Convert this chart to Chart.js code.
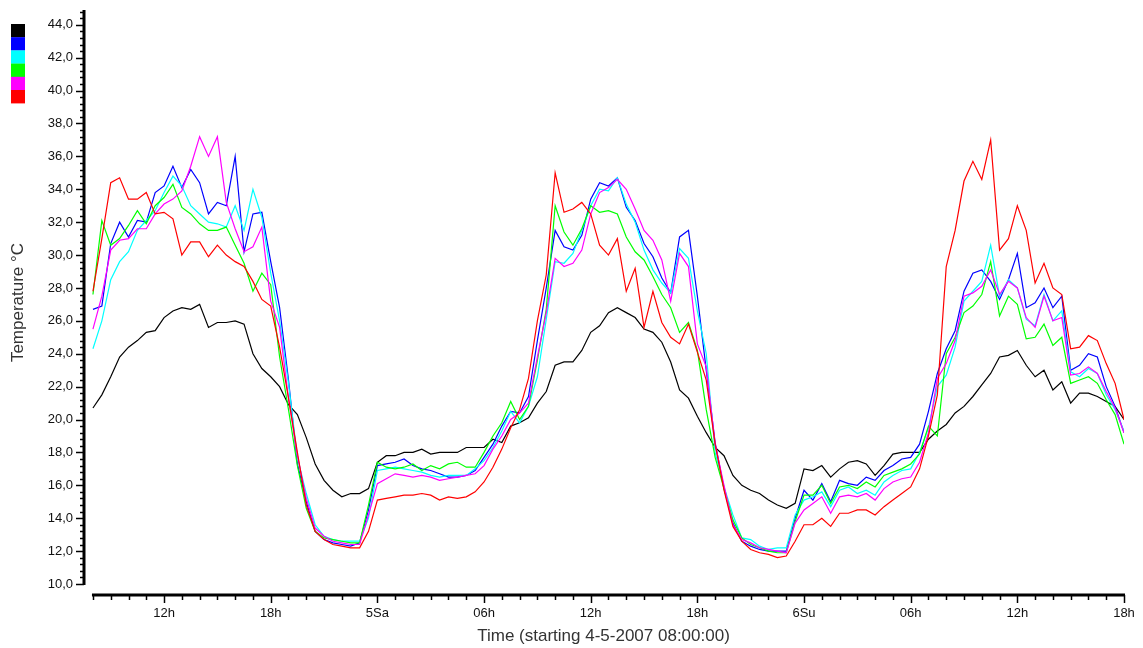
<!DOCTYPE html>
<html lang="en">
<head>
    <meta charset="UTF-8">
    <title>Temperature</title>
    <script src="https://cdn.jsdelivr.net/npm/chart.js"></script>
    <style>
        body {
            margin: 0;
            background-color: #ffffff;
        }
        #wrap {
            width: 1143px;
            height: 648px;
        }
    </style>
</head>
<body>
    <div id="wrap">
        <canvas id="tempChart" width="1143" height="648"></canvas>
    </div>
    <script>
        // one reading every 30 min, starting 4-5-2007 08:00
        const black = [
            20.7, 21.5, 22.6, 23.8, 24.4, 24.8, 25.3, 25.4, 26.2, 26.6,
            26.8, 26.7, 27.0, 25.6, 25.9, 25.9, 26.0, 25.8, 24.0, 23.1,
            22.6, 22.0, 20.9, 20.3, 18.9, 17.3, 16.3, 15.7, 15.3, 15.5,
            15.5, 15.8, 17.4, 17.8, 17.8, 18.0, 18.0, 18.2, 17.9, 18.0,
            18.0, 18.0, 18.3, 18.3, 18.3, 18.8, 18.6, 19.6, 19.8, 20.1,
            21.0, 21.7, 23.3, 23.5, 23.5, 24.2, 25.3, 25.7, 26.5, 26.8,
            26.5, 26.2, 25.5, 25.3, 24.7, 23.5, 21.8, 21.3, 20.2, 19.2,
            18.3, 17.8, 16.6, 16.0, 15.7, 15.5, 15.1, 14.8, 14.6, 14.9,
            17.0, 16.9, 17.2, 16.5, 17.0, 17.4, 17.5, 17.3, 16.6, 17.2,
            17.9, 18.0, 18.0, 18.0, 18.8, 19.3, 19.7, 20.4, 20.8, 21.4,
            22.1, 22.8, 23.8, 23.9, 24.2, 23.3, 22.6, 23.0, 21.8, 22.3,
            21.0, 21.6, 21.6, 21.4, 21.1, 20.8, 20.0
        ];
        const blue = [
            26.7, 26.9, 30.7, 32.0, 31.1, 32.1, 32.0, 33.8, 34.2, 35.4,
            34.1, 35.2, 34.4, 32.5, 33.2, 33.0, 36.0, 30.2, 32.5, 32.6,
            29.6, 26.8, 22.4, 17.3, 15.0, 13.2, 12.7, 12.5, 12.4, 12.3,
            12.5, 14.5, 17.2, 17.3, 17.4, 17.6, 17.2, 17.0, 16.9, 16.7,
            16.5, 16.5, 16.6, 16.9, 17.7, 18.5, 19.6, 20.5, 20.4, 21.4,
            24.8, 28.0, 31.5, 30.5, 30.3, 31.2, 33.4, 34.4, 34.2, 34.7,
            32.9, 32.1, 30.7, 29.9, 28.6, 27.7, 31.1, 31.5, 27.5, 23.0,
            18.6, 15.8, 13.7, 12.6, 12.3, 12.1, 12.0, 12.0, 12.0, 14.0,
            15.7, 15.1, 16.1, 15.0, 16.3, 16.1, 16.0, 16.5, 16.3, 16.9,
            17.2, 17.6, 17.7, 18.5, 20.5, 22.8, 24.3, 25.4, 27.8, 28.9,
            29.1, 28.4, 27.3, 28.5, 30.1, 26.8, 27.1, 28.0, 26.8, 27.5,
            23.0, 23.3, 24.0, 23.8, 22.0, 20.8, 19.2
        ];
        const cyan = [
            24.3, 26.0, 28.5, 29.6, 30.2, 31.5, 32.1, 32.7, 33.8, 34.8,
            34.2, 33.0, 32.5, 32.0, 31.9, 31.7, 33.0, 31.5, 34.0, 32.3,
            28.9, 26.0, 22.2, 17.7, 15.5, 13.6, 12.9, 12.7, 12.6, 12.6,
            12.6, 14.0, 16.9, 17.0, 17.1, 17.0, 16.9, 16.8, 16.6, 16.5,
            16.6, 16.6, 16.6, 17.0, 17.5, 18.3, 19.3, 20.5, 19.8, 20.8,
            22.6, 26.1, 29.6, 29.5, 30.1, 31.5, 33.0, 34.0, 33.9, 34.7,
            33.1, 32.0, 30.3, 29.1, 28.3, 27.7, 30.4, 29.8, 26.6, 24.0,
            18.0, 15.9, 14.2, 12.8, 12.7, 12.3, 12.1, 12.2, 12.2, 14.2,
            15.1, 15.3, 15.6, 14.7, 15.7, 15.9, 15.5, 15.7, 15.4, 16.2,
            16.6, 16.9, 17.0, 18.0, 19.5, 22.0, 22.7, 24.4, 27.2, 27.8,
            28.4, 30.6, 27.5, 28.5, 28.0, 26.1, 25.7, 27.6, 26.0, 26.6,
            22.9, 22.6, 23.1, 22.8, 21.5, 20.6, 19.3
        ];
        const green = [
            27.6, 32.1, 30.6, 31.0, 31.8, 32.7, 31.9, 33.0, 33.5, 34.3,
            32.9, 32.5, 31.9, 31.5, 31.5, 31.7, 30.6, 29.5, 27.8, 28.9,
            28.2, 23.8, 20.6, 17.2, 14.6, 13.2, 12.8, 12.7, 12.6, 12.5,
            12.5, 14.8, 17.4, 17.1, 17.0, 17.1, 17.3, 16.9, 17.2, 17.0,
            17.3, 17.4, 17.1, 17.1, 18.0, 19.0, 19.8, 21.1, 20.0, 20.8,
            23.6, 26.7, 33.0, 31.4, 30.6, 31.6, 33.0, 32.6, 32.7, 32.5,
            31.1, 30.2, 29.7, 28.7, 27.6, 26.8, 25.3, 25.9, 24.2, 20.6,
            17.7, 15.8, 13.9, 12.8, 12.4, 12.2, 12.0, 11.9, 11.9, 13.8,
            15.4, 15.4, 16.0, 14.9, 15.9, 16.0, 15.8, 16.2, 15.9, 16.6,
            16.8, 17.0, 17.3, 17.9, 19.6, 19.0, 24.0, 25.0, 26.5, 26.9,
            27.6, 29.6, 26.3, 27.5, 27.0, 24.9, 25.0, 25.8, 24.5, 25.0,
            22.2, 22.4, 22.6, 22.2, 21.2, 20.3, 18.5
        ];
        const magenta = [
            25.5, 27.5, 30.3, 30.9, 31.0, 31.6, 31.6, 32.5, 33.1, 33.4,
            33.9, 35.4, 37.2, 36.0, 37.2, 33.2, 31.6, 30.2, 30.5, 31.7,
            27.2, 25.6, 21.3, 17.8, 15.2, 13.4, 12.9, 12.6, 12.5, 12.4,
            12.4, 14.2, 16.1, 16.4, 16.7, 16.6, 16.5, 16.6, 16.5, 16.3,
            16.4, 16.5, 16.6, 16.7, 17.2, 18.2, 19.0, 20.0, 20.4, 21.0,
            23.8, 26.5, 29.8, 29.3, 29.5, 30.3, 32.5, 33.8, 34.1, 34.6,
            34.0, 32.8, 31.5, 30.9, 29.7, 27.2, 30.1, 29.3, 24.6, 23.2,
            18.5, 16.0, 13.6, 12.7, 12.5, 12.2, 12.1, 12.0, 11.9, 13.7,
            14.5, 14.9, 15.3, 14.3, 15.3, 15.4, 15.3, 15.5, 15.1, 15.8,
            16.2, 16.4, 16.5, 17.4, 19.2, 22.5, 23.4, 24.8, 27.5, 27.7,
            28.1, 29.1, 27.6, 28.4, 28.0, 26.2, 25.6, 27.5, 26.0, 26.2,
            22.7, 22.8, 23.2, 22.8, 21.7, 20.7, 19.2
        ];
        const red = [
            27.8, 31.0, 34.4, 34.7, 33.4, 33.4, 33.8, 32.5, 32.6, 32.2,
            30.0, 30.8, 30.8, 29.9, 30.6, 30.0, 29.6, 29.3, 28.4, 27.3,
            26.9, 24.4, 21.3, 18.0, 14.8, 13.2, 12.7, 12.4, 12.3, 12.2,
            12.2, 13.2, 15.1, 15.2, 15.3, 15.4, 15.4, 15.5, 15.4, 15.1,
            15.3, 15.2, 15.3, 15.6, 16.2, 17.1, 18.2, 19.5, 20.6, 22.5,
            26.0, 28.8, 35.0, 32.6, 32.8, 33.2, 32.5, 30.6, 30.0, 31.0,
            27.8, 29.2, 25.6, 27.8, 25.9, 25.0, 24.6, 25.8, 24.1, 22.4,
            18.5, 15.7, 13.5, 12.6, 12.1, 11.9, 11.8, 11.6, 11.7, 12.6,
            13.6, 13.6, 14.0, 13.5, 14.3, 14.3, 14.5, 14.5, 14.2, 14.7,
            15.1, 15.5, 15.9, 17.0, 19.0, 21.5, 29.3, 31.5, 34.5, 35.7,
            34.6, 37.0, 30.3, 31.0, 33.0, 31.5, 28.3, 29.5, 28.0, 27.6,
            24.3, 24.4, 25.1, 24.8, 23.4, 22.2, 20.0
        ];

        // hours after 08:00 on 4-5-2007
        const hours = black.map((v, i) => i * 0.5);

        const tickHours = [4, 10, 16, 22, 28, 34, 40, 46, 52, 58];
        const tickLabels = ['12h', '18h', '5Sa', '06h', '12h', '18h', '6Su', '06h', '12h', '18h'];
        const yTicks = [10, 12, 14, 16, 18, 20, 22, 24, 26, 28, 30, 32, 34, 36, 38, 40, 42, 44];

        const series = [
            { name: 'black', color: '#000000', values: black },
            { name: 'blue', color: '#0000ff', values: blue },
            { name: 'cyan', color: '#00ffff', values: cyan },
            { name: 'green', color: '#00ff00', values: green },
            { name: 'magenta', color: '#ff00ff', values: magenta },
            { name: 'red', color: '#ff0000', values: red }
        ];

        Chart.defaults.font.family = "'Liberation Sans', Arial, sans-serif";
        Chart.defaults.color = '#111111';

        // axis lines, small ticks and the colour key in the corner
        const axesPlugin = {
            id: 'axesPlugin',
            afterDraw(chart) {
                const ctx = chart.ctx;
                const area = chart.chartArea;
                const x = chart.scales.x;
                const y = chart.scales.y;
                ctx.save();
                ctx.strokeStyle = '#000000';

                // y axis
                const ax = area.left + 1;
                ctx.lineWidth = 3;
                ctx.beginPath();
                ctx.moveTo(ax, y.getPixelForValue(10) + 1);
                ctx.lineTo(ax, area.top);
                ctx.stroke();
                ctx.lineWidth = 1.5;
                for (let k = 0; k <= 87; k++) {
                    const py = Math.round(y.getPixelForValue(10 + k * 0.4)) + 0.5;
                    const len = k % 5 === 0 ? 8 : 4;
                    ctx.beginPath();
                    ctx.moveTo(ax - len, py);
                    ctx.lineTo(ax, py);
                    ctx.stroke();
                }

                // x axis
                const ay = area.bottom;
                ctx.lineWidth = 3;
                ctx.beginPath();
                ctx.moveTo(x.getPixelForValue(0) - 1, ay);
                ctx.lineTo(x.getPixelForValue(58) + 1, ay);
                ctx.stroke();
                ctx.lineWidth = 1.5;
                for (let h = 0; h <= 58; h++) {
                    const px = Math.round(x.getPixelForValue(h)) + 0.5;
                    const len = tickHours.includes(h) ? 8 : 5;
                    ctx.beginPath();
                    ctx.moveTo(px, ay);
                    ctx.lineTo(px, ay + len);
                    ctx.stroke();
                }

                // colour key
                chart.data.datasets.slice().sort((a, b) => b.order - a.order).forEach((ds, i) => {
                    ctx.fillStyle = ds.borderColor;
                    ctx.fillRect(11, 24 + i * 13.2, 14, 13.4);
                });
                ctx.restore();
            }
        };

        const ctx = document.getElementById('tempChart').getContext('2d');
        const tempChart = new Chart(ctx, {
            type: 'line',
            data: {
                datasets: series.map((s, i) => ({
                    label: s.name,
                    data: s.values.map((v, j) => ({ x: hours[j], y: v })),
                    borderColor: s.color,
                    backgroundColor: s.color,
                    borderWidth: 1.2,
                    pointRadius: 0,
                    tension: 0,
                    order: series.length - i
                }))
            },
            options: {
                responsive: false,
                animation: false,
                layout: { padding: { left: 0, top: 10, right: 19, bottom: 0 } },
                plugins: {
                    legend: { display: false },
                    tooltip: { enabled: false }
                },
                scales: {
                    x: {
                        type: 'linear',
                        min: -0.56,
                        max: 58,
                        grid: { display: false, drawTicks: false },
                        border: { display: false },
                        afterBuildTicks: (s) => { s.ticks = tickHours.map(v => ({ value: v })); },
                        afterFit: (s) => { s.height = 53; s.paddingLeft = 0; s.paddingRight = 0; },
                        ticks: {
                            autoSkip: false,
                            maxRotation: 0,
                            padding: 11,
                            font: { size: 13 },
                            callback: (v, i) => tickLabels[i]
                        },
                        title: {
                            display: true,
                            text: 'Time (starting 4-5-2007 08:00:00)',
                            font: { size: 17 },
                            color: '#333333',
                            padding: { top: 0, bottom: 1 }
                        }
                    },
                    y: {
                        min: 9.33,
                        max: 44.9,
                        grid: { display: false, drawTicks: false },
                        border: { display: false },
                        afterBuildTicks: (s) => { s.ticks = yTicks.map(v => ({ value: v })); },
                        afterFit: (s) => { s.width = 83; s.paddingTop = 0; s.paddingBottom = 0; },
                        ticks: {
                            padding: 10,
                            font: { size: 13 },
                            callback: (v) => v.toFixed(1).replace('.', ',')
                        },
                        title: {
                            display: true,
                            text: 'Temperature °C',
                            font: { size: 17 },
                            color: '#333333',
                            padding: { top: 8, bottom: 0 }
                        }
                    }
                }
            },
            plugins: [axesPlugin]
        });
    </script>
</body>
</html>
